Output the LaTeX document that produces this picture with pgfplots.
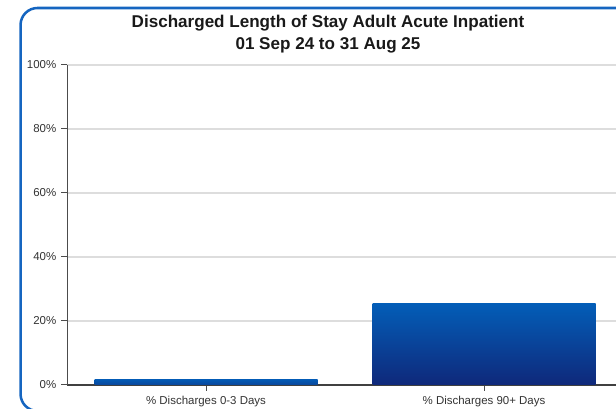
\documentclass[border=0pt]{standalone}
\usepackage{fontspec}
\setmainfont{Liberation Sans}
\usepackage{pgfplots}
\pgfplotsset{compat=1.18}
\definecolor{framecol}{RGB}{21,101,192}
\definecolor{bartop}{RGB}{3,94,184}
\definecolor{barbot}{RGB}{15,40,122}
\definecolor{smalltop}{RGB}{4,88,178}
\definecolor{smallbot}{RGB}{10,70,155}
\definecolor{gridgray}{RGB}{221,221,221}
\definecolor{ticktext}{RGB}{51,51,51}

\begin{document}
\begin{tikzpicture}
% picture is 616x409 px, 1 px = 0.75pt
\useasboundingbox (0,0) rectangle (462pt,306.75pt);
\clip (0,0) rectangle (462pt,306.75pt);
\draw[framecol, line width=1.9pt, rounded corners=12.75pt]
  (15.4pt,-1.5pt) rectangle (490pt,300.75pt);
\node[anchor=base, font=\bfseries\fontsize{12.8}{15}\selectfont, text=black!90]
  at (246pt,285.75pt) {Discharged Length of Stay Adult Acute Inpatient};
\node[anchor=base, font=\bfseries\fontsize{12.8}{15}\selectfont, text=black!90]
  at (246pt,269.25pt) {01 Sep 24 to 31 Aug 25};
\begin{axis}[
  at={(50.25pt,18pt)}, anchor=south west,
  scale only axis, width=417pt, height=240pt,
  xmin=-0.5, xmax=1.5, ymin=0, ymax=100,
  axis lines=left,
  axis line style={-},
  x axis line style={black!75, line width=1pt},
  y axis line style={black!70, line width=0.75pt},
  tick align=outside,
  major tick length=4.5pt,
  tick style={black!70, line width=0.75pt},
  xtick={0,1},
  xticklabels={\% Discharges 0-3 Days, \% Discharges 90+ Days},
  ytick={0,20,40,60,80,100},
  yticklabels={0\%,20\%,40\%,60\%,80\%,100\%},
  tick label style={font=\fontsize{8.6}{10}\selectfont, text=ticktext},
  ymajorgrids,
  major grid style={gridgray, line width=1.1pt},
]
\addplot[ybar, bar width=167.25pt, draw=none, top color=smalltop, bottom color=smallbot]
  coordinates {(0,1.6)};
\addplot[ybar, bar width=167.25pt, draw=none, top color=bartop, bottom color=barbot]
  coordinates {(1,25.6)};
\end{axis}
\end{tikzpicture}
\end{document}
